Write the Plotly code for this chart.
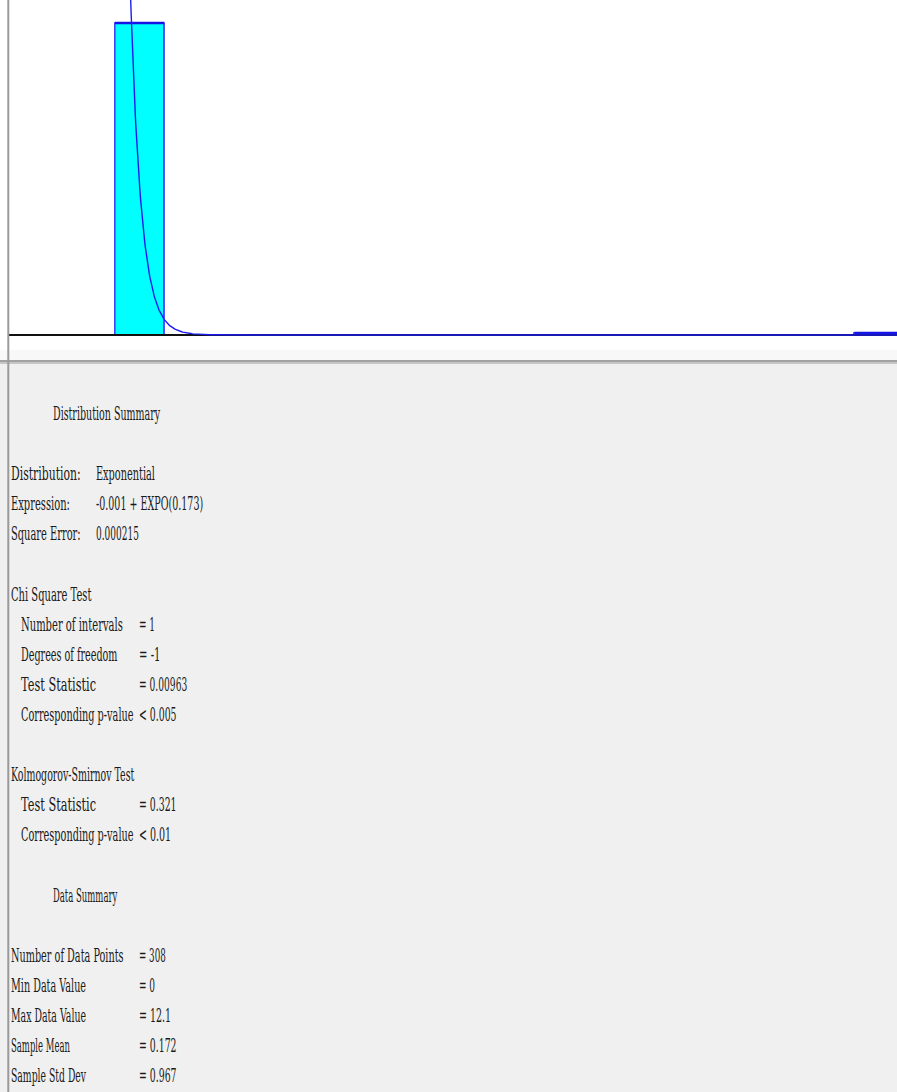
import numpy as np
import plotly.graph_objects as go

# ---------------------------------------------------------------- data
n_points = 308
bin_width = 0.78
bin_counts = [306, 0, 0, 0, 0, 0, 0, 0, 0, 0, 0, 0, 0, 0, 0, 2]

fit_offset = -0.001          # -0.001 + EXPO(0.173)
fit_mean = 0.173

dist_fields = ["Distribution:", "Expression:", "Square Error:"]
dist_values = ["Exponential", "-0.001 + EXPO(0.173)", "0.000215"]

chi_fields = ["Number of intervals", "Degrees of freedom", "Test Statistic",
              "Corresponding p-value"]
chi_values = ["= 1", "= -1", "= 0.00963", "< 0.005"]

ks_fields = ["Test Statistic", "Corresponding p-value"]
ks_values = ["= 0.321", "< 0.01"]

data_fields = ["Number of Data Points", "Min Data Value", "Max Data Value",
               "Sample Mean", "Sample Std Dev"]
data_values = ["= 308", "= 0", "= 12.1", "= 0.172", "= 0.967"]

# ---------------------------------------------------------------- geometry
W, H = 897, 1092
PLOT_LEFT, PLOT_BOTTOM = 9, 349          # pixel extent of the histogram pane
X_ZERO_PX, PX_PER_UNIT = 115.0, 63.2     # horizontal scale of the pane
BASE_PX, PX_PER_COUNT = 335.0, 1.0196    # vertical scale of the pane

x_lo = (PLOT_LEFT - X_ZERO_PX) / PX_PER_UNIT
x_hi = (W - X_ZERO_PX) / PX_PER_UNIT
y_hi = BASE_PX / PX_PER_COUNT
y_lo = -(PLOT_BOTTOM - BASE_PX) / PX_PER_COUNT


def px(x):
    return x / W


def py(y):
    return 1 - y / H


edges = np.arange(len(bin_counts) + 1) * bin_width
centers = (edges[:-1] + edges[1:]) / 2

# fitted exponential, expressed as expected count per histogram bin
xs = np.linspace(0, x_hi, 1500)
fit_counts = n_points * bin_width / fit_mean * np.exp(-(xs - fit_offset) / fit_mean)

# outline over the occupied bins only (empty bins stay on the baseline)
step_x, step_y, top_x, top_y = [], [], [], []
for lo, hi, c in zip(edges[:-1], edges[1:], bin_counts):
    if c > 0:
        step_x += [lo, lo, hi, hi, None]
        step_y += [0, c, c, 0, None]
        top_x += [lo, hi, None]
        top_y += [c, c, None]

fig = go.Figure()
fig.add_trace(go.Bar(
    x=centers, y=bin_counts, width=bin_width,
    marker=dict(color="#00ffff", line=dict(color="#4848ff", width=1)),
    hoverinfo="skip", showlegend=False,
))
fig.add_trace(go.Scatter(
    x=step_x, y=step_y, mode="lines",
    line=dict(color="#4040ff", width=1.2),
    hoverinfo="skip", showlegend=False,
))
# bar tops drawn a little heavier
fig.add_trace(go.Scatter(
    x=top_x, y=top_y, mode="lines",
    line=dict(color="#1414e6", width=2.4),
    hoverinfo="skip", showlegend=False,
))
# baseline of the histogram pane
fig.add_trace(go.Scatter(
    x=[x_lo, x_hi], y=[0, 0], mode="lines",
    line=dict(color="#111111", width=1.8),
    hoverinfo="skip", showlegend=False,
))
fig.add_trace(go.Scatter(
    x=xs, y=fit_counts, mode="lines",
    line=dict(color="#1c1cf0", width=1.4),
    hoverinfo="skip", showlegend=False,
))

# ---------------------------------------------------------------- text panel
CHAR = 5.36          # monospaced character pitch in the report
TEXT_X0 = 10.5
LINE0_Y, LINE_PITCH = 413.0, 30.1
TALL = 2.1           # the report face is drawn about twice as tall as wide

annotations = []


def put(text, col, line):
    annotations.append(dict(
        text=text, xref="paper", yref="paper",
        x=px(TEXT_X0 + col * CHAR), y=py(LINE0_Y + line * LINE_PITCH),
        xanchor="left", yanchor="middle", align="left", showarrow=False,
        borderpad=0, borderwidth=0,
        font=dict(family="DejaVu Serif", size=9, color="#1a1a1a"),
    ))


put("Distribution Summary", 8, 0)
for i, (f, v) in enumerate(zip(dist_fields, dist_values)):
    put(f, 0, 2 + i)
    put(v, 16, 2 + i)

put("Chi Square Test", 0, 6)
for i, (f, v) in enumerate(zip(chi_fields, chi_values)):
    put(f, 2, 7 + i)
    put(v, 24, 7 + i)

put("Kolmogorov-Smirnov Test", 0, 12)
for i, (f, v) in enumerate(zip(ks_fields, ks_values)):
    put(f, 2, 13 + i)
    put(v, 24, 13 + i)

put("Data Summary", 8, 16)
for i, (f, v) in enumerate(zip(data_fields, data_values)):
    put(f, 0, 18 + i)
    put(v, 24, 18 + i)

shapes = [
    # white histogram pane
    dict(type="rect", xref="paper", yref="paper", x0=0, x1=1,
         y0=py(350), y1=1, fillcolor="white", line=dict(width=0), layer="below"),
    # splitter between the pane and the report
    dict(type="rect", xref="paper", yref="paper", x0=0, x1=1,
         y0=py(360), y1=py(350), fillcolor="#f8f8f8", line=dict(width=0), layer="below"),
    dict(type="rect", xref="paper", yref="paper", x0=0, x1=1,
         y0=py(362), y1=py(360), fillcolor="#a2a2a2", line=dict(width=0), layer="below"),
    dict(type="rect", xref="paper", yref="paper", x0=0, x1=1,
         y0=py(364), y1=py(362), fillcolor="#c6c6c6", line=dict(width=0), layer="below"),
    # left window border
    dict(type="line", xref="paper", yref="paper", x0=px(8.3), x1=px(8.3),
         y0=0, y1=1, line=dict(color="#9a9a9a", width=2), layer="above"),
]

fig.update_layout(
    width=W, height=H,
    margin=dict(l=0, r=0, t=0, b=0, pad=0),
    paper_bgcolor="#f0f0f0", plot_bgcolor="white",
    bargap=0, showlegend=False,
    xaxis=dict(domain=[px(PLOT_LEFT), 1], range=[x_lo, x_hi], visible=False,
               fixedrange=True),
    yaxis=dict(domain=[py(PLOT_BOTTOM), 1], range=[y_lo, y_hi], visible=False,
               fixedrange=True),
    annotations=annotations, shapes=shapes,
)

# the report uses a tall, narrow fixed-pitch face: fit each string to the
# character pitch (left edge kept) and stretch the glyphs vertically
fit_js = """
var gd = document.getElementById('{plot_id}');
var CHAR = %s, TALL = %s;
function fitText() {
  gd.querySelectorAll('text.annotation-text').forEach(function (t) {
    if (t.getAttribute('data-fit')) return;
    var b = t.getBBox();
    var w = t.textContent.length * CHAR;
    t.setAttribute('text-anchor', 'start');
    t.style.textAnchor = 'start';
    t.setAttribute('x', b.x);
    t.setAttribute('textLength', w.toFixed(2));
    t.setAttribute('lengthAdjust', 'spacingAndGlyphs');
    t.style.transformBox = 'fill-box';
    t.style.transformOrigin = '0 50%%';
    t.style.transform = 'scaleY(' + TALL + ')';
    t.setAttribute('data-fit', '1');
  });
}
fitText();
gd.on('plotly_afterplot', fitText);
""" % (CHAR, TALL)

fig.write_html("out.html", config={"displayModeBar": False},
               post_script=fit_js)
